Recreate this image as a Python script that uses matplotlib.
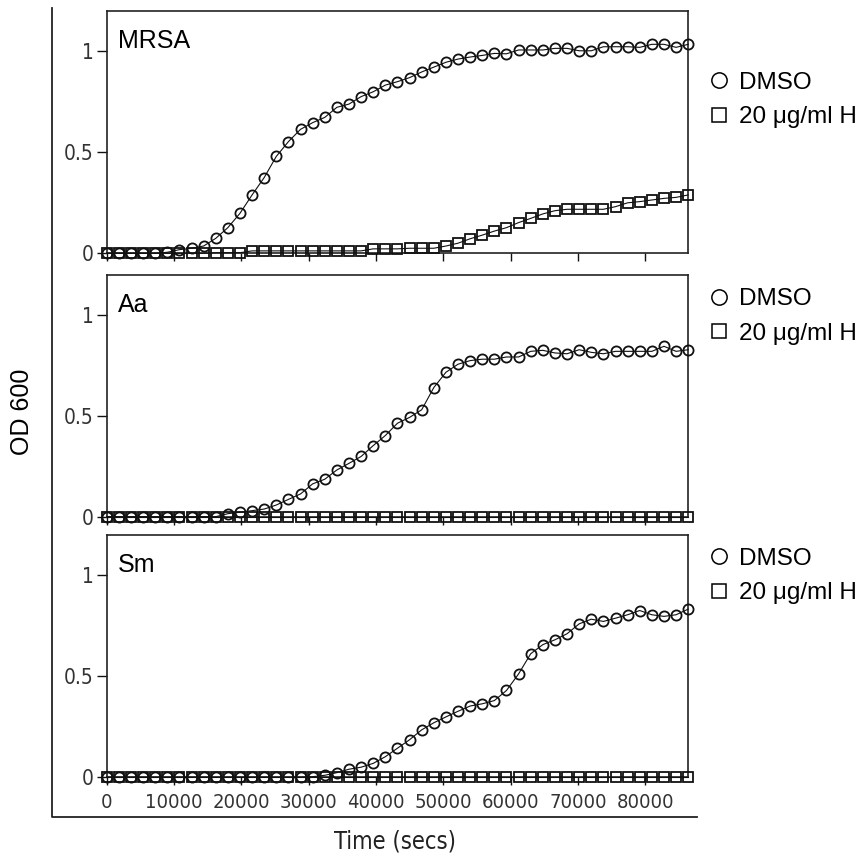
import matplotlib
matplotlib.use("Agg")
import matplotlib.pyplot as plt
from matplotlib.lines import Line2D
from matplotlib import font_manager

plt.rcParams['font.family'] = ['Liberation Sans', 'DejaVu Sans']

# pick a condensed face for tick labels / axis title if available
_names = {(f.name, f.stretch) for f in font_manager.fontManager.ttflist}
_fams = {f.name for f in font_manager.fontManager.ttflist}
if 'Liberation Sans Narrow' in _fams:
    NARROW = dict(family=['Liberation Sans Narrow', 'Liberation Sans'], stretch='normal')
elif any(n == 'DejaVu Sans' and s == 'condensed' for n, s in _names):
    NARROW = dict(family=['DejaVu Sans'], stretch='condensed')
else:
    NARROW = dict(family=['Liberation Sans', 'DejaVu Sans'], stretch='normal')

# ---------------- data ----------------
time_secs = [0, 1800, 3600, 5400, 7200, 9000, 10800, 12600, 14400, 16200,
             18000, 19800, 21600, 23400, 25200, 27000, 28800, 30600, 32400, 34200,
             36000, 37800, 39600, 41400, 43200, 45000, 46800, 48600, 50400, 52200,
             54000, 55800, 57600, 59400, 61200, 63000, 64800, 66600, 68400, 70200,
             72000, 73800, 75600, 77400, 79200, 81000, 82800, 84600, 86400]

panel_names = ["MRSA", "Aa", "Sm"]
series_labels = ["DMSO", "20 μg/ml H"]

mrsa_dmso = [0.0, 0.0, 0.0, 0.0, 0.0, 0.005, 0.018, 0.025, 0.036, 0.074,
             0.127, 0.198, 0.289, 0.375, 0.48, 0.553, 0.614, 0.647, 0.673, 0.723,
             0.739, 0.776, 0.80, 0.833, 0.85, 0.87, 0.898, 0.922, 0.946, 0.962,
             0.972, 0.98, 0.99, 0.988, 1.007, 1.007, 1.007, 1.015, 1.015, 1.003,
             1.003, 1.023, 1.023, 1.023, 1.02, 1.035, 1.035, 1.02, 1.035]
mrsa_h = [0.0, 0.0, 0.0, 0.0, 0.0, 0.0, 0.0, 0.0, 0.0, 0.003,
          0.003, 0.003, 0.012, 0.012, 0.012, 0.012, 0.012, 0.012, 0.012, 0.012,
          0.012, 0.012, 0.022, 0.022, 0.022, 0.025, 0.025, 0.025, 0.036, 0.05,
          0.072, 0.09, 0.11, 0.127, 0.152, 0.173, 0.195, 0.211, 0.218, 0.218,
          0.218, 0.218, 0.231, 0.25, 0.256, 0.264, 0.272, 0.277, 0.289]

aa_dmso = [0.0, 0.0, 0.0, 0.0, 0.0, 0.0, 0.0, 0.0, 0.0, 0.0,
           0.015, 0.022, 0.03, 0.038, 0.058, 0.086, 0.113, 0.163, 0.186, 0.232,
           0.265, 0.299, 0.353, 0.403, 0.464, 0.493, 0.531, 0.641, 0.717, 0.757,
           0.775, 0.782, 0.782, 0.793, 0.793, 0.821, 0.826, 0.813, 0.809, 0.829,
           0.816, 0.809, 0.821, 0.821, 0.821, 0.821, 0.846, 0.821, 0.829]
aa_h = [0.0] * 49

sm_dmso = [0.0, 0.0, 0.0, 0.0, 0.0, 0.0, 0.0, 0.0, 0.0, 0.0,
           0.0, 0.0, 0.0, 0.0, 0.0, 0.0, 0.0, 0.003, 0.01, 0.023,
           0.04, 0.05, 0.069, 0.102, 0.144, 0.186, 0.235, 0.27, 0.299, 0.327,
           0.353, 0.364, 0.38, 0.43, 0.512, 0.612, 0.657, 0.681, 0.711, 0.76,
           0.783, 0.772, 0.788, 0.805, 0.826, 0.805, 0.797, 0.805, 0.833]
sm_h = [0.0] * 49

x_ticks = [0, 10000, 20000, 30000, 40000, 50000, 60000, 70000, 80000]
x_tick_labels = ["0", "10000", "20000", "30000", "40000", "50000", "60000", "70000", "80000"]
y_ticks = [0, 0.5, 1]
y_tick_labels = ["0", "0.5", "1"]

panel_data = [(mrsa_dmso, mrsa_h), (aa_dmso, aa_h), (sm_dmso, sm_h)]

# ---------------- layout (pixels) ----------------
W, H = 867, 856
fig = plt.figure(figsize=(W / 100, H / 100), dpi=100)
fig.patch.set_facecolor("white")


def rect(l, t, r, b):
    return [l / W, 1 - b / H, (r - l) / W, (b - t) / H]


panel_boxes = [(106.7, 11, 688.2, 253.3), (106.7, 275, 688.2, 516.7), (106.7, 535, 688.2, 777.3)]
legend_centers = [100, 316.5, 576]
ink = "#111111"
narrow_ok = NARROW['stretch'] == 'condensed' or 'Narrow' in NARROW['family'][0]
tick_size = 14.5 if narrow_ok else 13.5

for i, (name, (dmso, hvals)) in enumerate(zip(panel_names, panel_data)):
    ax = fig.add_axes(rect(*panel_boxes[i]))
    ax.plot(time_secs, dmso, color=ink, lw=0.8, marker='o', ms=7.3, mfc='none',
            mec=ink, mew=1.3, clip_on=False, zorder=3)
    ax.plot(time_secs, hvals, color=ink, lw=0.8, marker='s', ms=7.0, mfc='none',
            mec=ink, mew=1.3, clip_on=False, zorder=3)
    ax.set_xlim(0, 86400)
    ax.set_ylim(0, 1.2)
    ax.set_xticks(x_ticks)
    ax.set_yticks(y_ticks)
    ax.set_yticklabels(y_tick_labels)
    if i == 2:
        ax.set_xticklabels(x_tick_labels)
    else:
        ax.set_xticklabels([])
    ax.tick_params(axis='y', direction='out', length=7, width=1.0, pad=2.5,
                   labelsize=tick_size + 0.5, colors=ink, labelcolor="#333333")
    ax.tick_params(axis='x', direction='out', length=6, width=1.0, pad=5,
                   labelsize=tick_size, colors=ink, labelcolor="#333333")
    for lbl in ax.get_xticklabels() + ax.get_yticklabels():
        lbl.set_fontfamily(NARROW['family'])
        lbl.set_fontstretch(NARROW['stretch'])
    for sp in ax.spines.values():
        sp.set_linewidth(1.2)
        sp.set_color("#222222")
    ax.text(0.019, 0.847, name, transform=ax.transAxes, fontsize=18,
            ha='left', va='baseline', color='black')
    handles = [Line2D([], [], ls='none', marker='o', ms=11, mfc='none', mec='black', mew=1.1),
               Line2D([], [], ls='none', marker='s', ms=10.5, mfc='none', mec='black', mew=1.1)]
    ax.legend(handles, series_labels, loc='center left',
              bbox_to_anchor=(709 / W, 1 - legend_centers[i] / H),
              bbox_transform=fig.transFigure, frameon=False, fontsize=17.5,
              handlelength=0.8, handletextpad=0.45, labelspacing=0.5,
              borderpad=0, borderaxespad=0)

# outer chart frame (left & bottom)
fig.add_artist(Line2D([52 / W, 52 / W, 697 / W], [1 - 8 / H, 1 - 817 / H, 1 - 817 / H],
                      transform=fig.transFigure, color="#222222", lw=1.3))

fig.text(22 / W, 1 - 412 / H, "OD 600", rotation=90, ha='center', va='center',
         fontsize=18, color='black')
fig.text(395 / W, 1 - 841 / H, "Time (secs)", ha='center', va='center',
         fontsize=17 if narrow_ok else 16, color='#222222',
         family=NARROW['family'], stretch=NARROW['stretch'])

fig.savefig("out.png", dpi=100)
